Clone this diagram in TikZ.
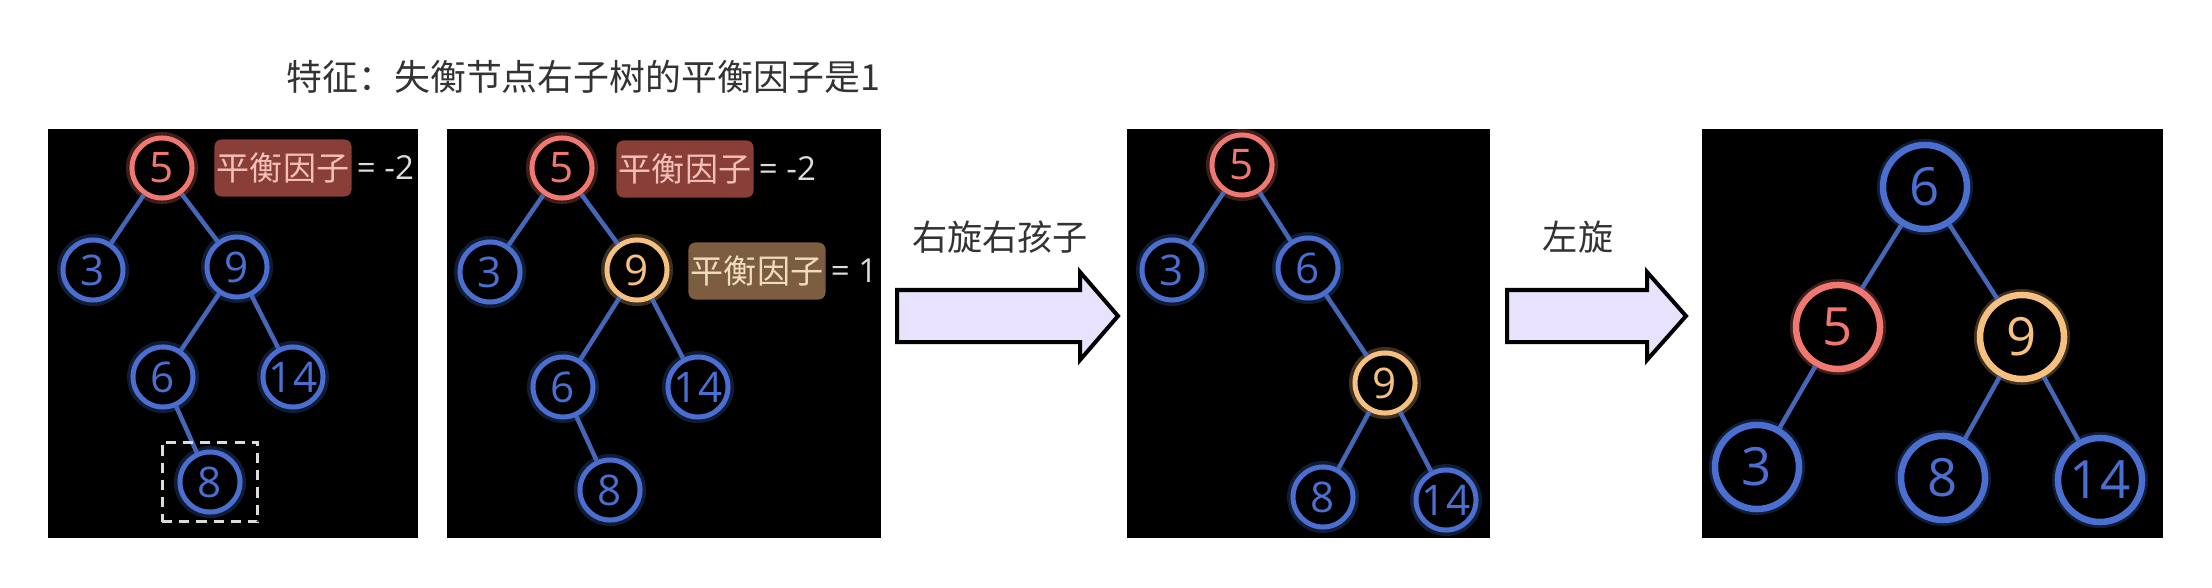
\documentclass[tikz,border=0pt]{standalone}
\usepackage{fontspec}
\setmainfont{Open Sans}
\newfontfamily\cjk{Noto Sans CJK SC}
\usetikzlibrary{positioning, fit}
\definecolor{AVLblue}{HTML}{4A6FD0}
\definecolor{AVLred}{HTML}{F07870}
\definecolor{AVLorange}{HTML}{F5C080}
\definecolor{AVLline}{HTML}{4666B8}
\definecolor{AVLbfred}{HTML}{8A3E38}
\definecolor{AVLbfbrown}{HTML}{7D5D40}
\definecolor{AVLbfredtext}{HTML}{F2C0B8}
\definecolor{AVLbfbrowntext}{HTML}{F0DCC0}
\definecolor{AVLval}{HTML}{DCDCDC}
\definecolor{AVLarrow}{HTML}{E8E2FC}
\definecolor{AVLtext}{HTML}{333333}

\begin{document}
\begin{tikzpicture}[x=0.01cm, y=-0.01cm,
      tnode/.style={circle, draw=#1, text=#1, line width=0.05cm, fill=black,
         minimum size=0.6cm, inner sep=0pt, font=\fontsize{12}{12}\selectfont,
         preaction={draw=#1, line width=0.12cm, opacity=0.25}},
      bignode/.style={tnode=#1, minimum size=0.84cm, line width=0.065cm,
         font=\fontsize{15}{15}\selectfont},
      edge/.style={AVLline, line width=0.045cm},
      bfbox/.style={fill=#1, rounded corners=0.07cm, minimum width=1.37cm,
         minimum height=0.57cm, inner sep=0pt, font=\cjk\fontsize{9.4}{10}\selectfont},
      bfval/.style={text=AVLval, anchor=west, inner sep=0pt, font=\fontsize{9.4}{10}\selectfont},
      dashbox/.style={draw=AVLval, dashed, dash pattern=on 0.1cm off 0.07cm,
         line width=0.035cm, inner xsep=0.15cm, inner ysep=0.07cm},
      blockarrow/.style={fill=AVLarrow, draw=black, line width=0.04cm, line join=miter},
      steplabel/.style={text=AVLtext, font=\cjk\fontsize{10}{12}\selectfont}]

      \useasboundingbox (0,0) rectangle (2212,588);

      % Title
      \node[anchor=west, inner sep=0pt, text=AVLtext, font=\cjk\fontsize{10.2}{12}\selectfont]
         (title) at (286,77) {特征：失衡节点右子树的平衡因子是1};

      % Black panels
      \fill[black] (48,129) rectangle (418,538);
      \fill[black] (447,129) rectangle (881,538);
      \fill[black] (1127,129) rectangle (1490,538);
      \fill[black] (1702,129) rectangle (2163,538);

      % Panel 1: the unbalanced tree
      \node[tnode=AVLred] (a5) at (162,168) {5};
      \node[tnode=AVLblue] (a3) at (93,270) {3};
      \node[tnode=AVLblue] (a9) at (237,267) {9};
      \node[tnode=AVLblue] (a6) at (163,377) {6};
      \node[tnode=AVLblue] (a14) at (293,377) {14};
      \node[tnode=AVLblue] (a8) at (210,482) {8};
      \draw[edge] (a5) -- (a3);
      \draw[edge] (a5) -- (a9);
      \draw[edge] (a9) -- (a6);
      \draw[edge] (a9) -- (a14);
      \draw[edge] (a6) -- (a8);
      \node[dashbox, fit=(a8)] (newnode) {};
      \node[bfbox=AVLbfred, text=AVLbfredtext] (abf) at (283,168) {平衡因子};
      \node[bfval, right=0.04cm of abf] (abfval) {= -2};

      % Panel 2: balance factors
      \node[tnode=AVLred] (b5) at (562,168) {5};
      \node[tnode=AVLblue] (b3) at (490,272) {3};
      \node[tnode=AVLorange] (b9) at (637,270) {9};
      \node[tnode=AVLblue] (b6) at (563,387) {6};
      \node[tnode=AVLblue] (b14) at (698,387) {14};
      \node[tnode=AVLblue] (b8) at (610,490) {8};
      \draw[edge] (b5) -- (b3);
      \draw[edge] (b5) -- (b9);
      \draw[edge] (b9) -- (b6);
      \draw[edge] (b9) -- (b14);
      \draw[edge] (b6) -- (b8);
      \node[bfbox=AVLbfred, text=AVLbfredtext] (bbf) at (685,169) {平衡因子};
      \node[bfval, right=0.04cm of bbf] (bbfval) {= -2};
      \node[bfbox=AVLbfbrown, text=AVLbfbrowntext] (cbf) at (757,271) {平衡因子};
      \node[bfval, right=0.04cm of cbf] (cbfval) {= 1};

      % First step
      \node[steplabel] (step1) at (1000,237) {右旋右孩子};
      \draw[blockarrow] (897,290) -- (1080,290) -- (1080,272) -- (1118,316)
         -- (1080,360) -- (1080,342) -- (897,342) -- cycle;

      % Panel 3: after the right rotation
      \node[tnode=AVLred] (c5) at (1242,165) {5};
      \node[tnode=AVLblue] (c3) at (1172,270) {3};
      \node[tnode=AVLblue] (c6) at (1308,268) {6};
      \node[tnode=AVLorange] (c9) at (1385,383) {9};
      \node[tnode=AVLblue] (c8) at (1323,497) {8};
      \node[tnode=AVLblue] (c14) at (1446,500) {14};
      \draw[edge] (c5) -- (c3);
      \draw[edge] (c5) -- (c6);
      \draw[edge] (c6) -- (c9);
      \draw[edge] (c9) -- (c8);
      \draw[edge] (c9) -- (c14);

      % Second step
      \node[steplabel] (step2) at (1578,237) {左旋};
      \draw[blockarrow] (1507,290) -- (1647,290) -- (1647,272) -- (1686,316)
         -- (1647,360) -- (1647,342) -- (1507,342) -- cycle;

      % Panel 4: balanced tree
      \node[bignode=AVLblue] (d6) at (1925,187) {6};
      \node[bignode=AVLred] (d5) at (1838,327) {5};
      \node[bignode=AVLorange] (d9) at (2022,337) {9};
      \node[bignode=AVLblue] (d3) at (1757,467) {3};
      \node[bignode=AVLblue] (d8) at (1943,478) {8};
      \node[bignode=AVLblue] (d14) at (2100,480) {14};
      \draw[edge] (d6) -- (d5);
      \draw[edge] (d6) -- (d9);
      \draw[edge] (d5) -- (d3);
      \draw[edge] (d9) -- (d8);
      \draw[edge] (d9) -- (d14);
   \end{tikzpicture}
\end{document}
